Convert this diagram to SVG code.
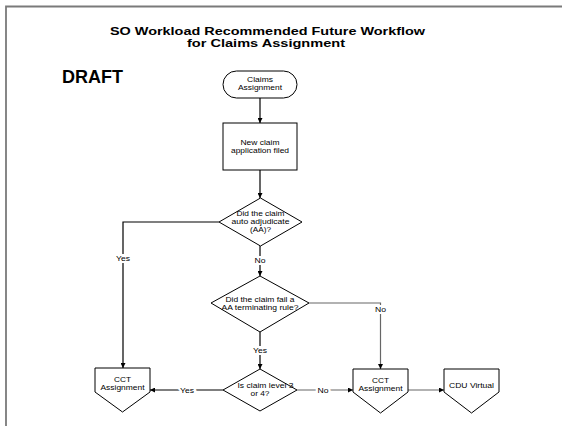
<svg xmlns="http://www.w3.org/2000/svg" width="562" height="426" viewBox="0 0 562 426">
  <defs>
    <marker id="arrow" viewBox="0 0 10 10" refX="10" refY="5" markerWidth="5.5" markerHeight="5" orient="auto" markerUnits="userSpaceOnUse">
      <path d="M0,0 L10,5 L0,10 Z" fill="#000"/>
    </marker>
    <style>
      .frame{fill:none;stroke:#7a7a7a;stroke-width:1.8}
      .shape{fill:#fff;stroke:#000;stroke-width:1}
      .t{font-family:"Liberation Sans",Arial,Helvetica,sans-serif;font-size:7px;text-anchor:middle;fill:#000}
      .title{font-family:"Liberation Sans",Arial,Helvetica,sans-serif;font-size:11px;font-weight:bold;text-anchor:middle;fill:#000}
      .draft{font-family:"Liberation Sans",Arial,Helvetica,sans-serif;font-size:18px;font-weight:bold;fill:#000}
      .c{fill:none;stroke:#000;stroke-width:1.2}
      .cg{fill:none;stroke:#666;stroke-width:1.2}
      .lbl{font-family:"Liberation Sans",Arial,Helvetica,sans-serif;font-size:7px;text-anchor:middle;fill:#000;stroke:#fff;stroke-width:4;paint-order:stroke}
    </style>
  </defs>

  <!-- page frame -->
  <path class="frame" d="M6,426 V6.5 H562"/>

  <!-- heading -->
  <text class="title" x="267.5" y="34.5" textLength="315" lengthAdjust="spacingAndGlyphs">SO Workload Recommended Future Workflow</text>
  <text class="title" x="266" y="46.5" textLength="158" lengthAdjust="spacingAndGlyphs">for Claims Assignment</text>
  <text class="draft" x="62" y="83">DRAFT</text>

  <!-- connectors -->
  <g id="connectors">
    <path class="c" d="M260,98 V123" marker-end="url(#arrow)"/>
    <path class="c" d="M260,170 V198" marker-end="url(#arrow)"/>
    <path class="c" d="M260,246 V276" marker-end="url(#arrow)"/>
    <path class="c" d="M219,222 H123 V368" marker-end="url(#arrow)"/>
    <path class="c" d="M260,332 V369" marker-end="url(#arrow)"/>
    <path class="cg" d="M309,303 H380.5 V369" marker-end="url(#arrow)"/>
    <path class="c" d="M223,390 H150" marker-end="url(#arrow)"/>
    <path class="cg" d="M297,390 H353" marker-end="url(#arrow)"/>
    <path class="cg" d="M408,390 H444" marker-end="url(#arrow)"/>
    <text class="lbl" x="260" y="262.5" textLength="11" lengthAdjust="spacingAndGlyphs">No</text>
    <text class="lbl" x="123" y="260.5" textLength="14" lengthAdjust="spacingAndGlyphs">Yes</text>
    <text class="lbl" x="260" y="352.5" textLength="14" lengthAdjust="spacingAndGlyphs">Yes</text>
    <text class="lbl" x="380.5" y="311.5" textLength="11" lengthAdjust="spacingAndGlyphs">No</text>
    <text class="lbl" x="187" y="392.5" textLength="14" lengthAdjust="spacingAndGlyphs">Yes</text>
    <text class="lbl" x="323" y="392.5" textLength="11" lengthAdjust="spacingAndGlyphs">No</text>
  </g>

  <g id="start">
    <rect class="shape" x="223" y="71" width="74" height="27" rx="13.5" ry="13.5"/>
    <text class="t" x="260" y="81.5" textLength="26" lengthAdjust="spacingAndGlyphs">Claims</text>
    <text class="t" x="260" y="89.5" textLength="44" lengthAdjust="spacingAndGlyphs">Assignment</text>
  </g>

  <g id="new-claim">
    <rect class="shape" x="223" y="123" width="74" height="47"/>
    <text class="t" x="260" y="145" textLength="39" lengthAdjust="spacingAndGlyphs">New claim</text>
    <text class="t" x="260" y="153" textLength="58" lengthAdjust="spacingAndGlyphs">application filed</text>
  </g>

  <g id="auto-adjudicate">
    <polygon class="shape" points="260.5,198 302,222 260.5,246 219,222"/>
    <text class="t" x="260.5" y="216" textLength="48" lengthAdjust="spacingAndGlyphs">Did the claim</text>
    <text class="t" x="260.5" y="224" textLength="58" lengthAdjust="spacingAndGlyphs">auto adjudicate</text>
    <text class="t" x="260.5" y="232" textLength="21" lengthAdjust="spacingAndGlyphs">(AA)?</text>
  </g>

  <g id="terminating-rule">
    <polygon class="shape" points="260,276 309,303 260,332 211,303"/>
    <text class="t" x="260" y="302" textLength="69" lengthAdjust="spacingAndGlyphs">Did the claim fail a</text>
    <text class="t" x="260" y="310" textLength="77" lengthAdjust="spacingAndGlyphs">AA terminating rule?</text>
  </g>

  <g id="claim-level">
    <polygon class="shape" points="260,369 297,390 260,411 223,390"/>
    <text class="t" x="265.5" y="388" textLength="56" lengthAdjust="spacingAndGlyphs">Is claim level 3</text>
    <text class="t" x="260" y="396" textLength="19" lengthAdjust="spacingAndGlyphs">or 4?</text>
  </g>

  <g id="cct-left">
    <polygon class="shape" points="95,368 150,368 150,392 122.5,412 95,392"/>
    <text class="t" x="122.5" y="382" textLength="17" lengthAdjust="spacingAndGlyphs">CCT</text>
    <text class="t" x="122.5" y="390" textLength="44" lengthAdjust="spacingAndGlyphs">Assignment</text>
  </g>

  <g id="cct-right">
    <polygon class="shape" points="353,369 408,369 408,392 380.5,413 353,392"/>
    <text class="t" x="380.5" y="382.5" textLength="17" lengthAdjust="spacingAndGlyphs">CCT</text>
    <text class="t" x="380.5" y="390.5" textLength="44" lengthAdjust="spacingAndGlyphs">Assignment</text>
  </g>

  <g id="cdu-virtual">
    <polygon class="shape" points="444,369 499,369 499,392 471.5,413 444,392"/>
    <text class="t" x="471.5" y="388" textLength="45" lengthAdjust="spacingAndGlyphs">CDU Virtual</text>
  </g>
</svg>
